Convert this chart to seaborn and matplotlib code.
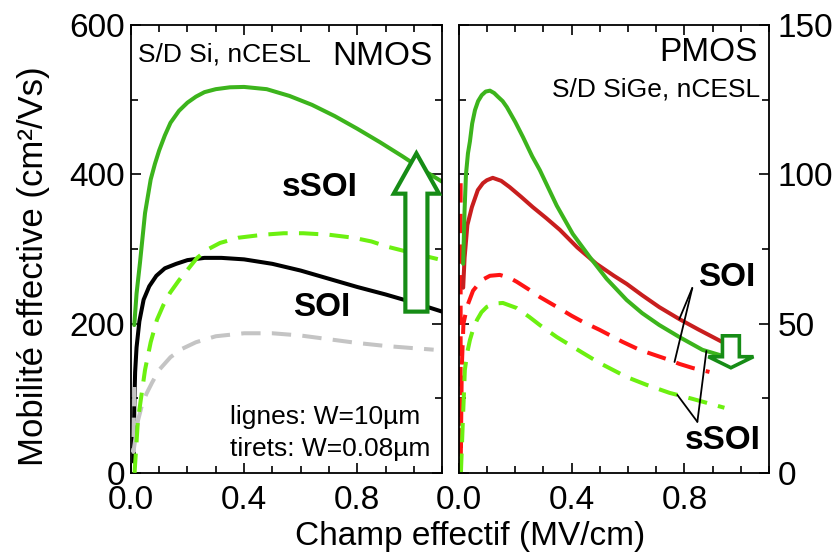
import numpy as np
import matplotlib.pyplot as plt
import matplotlib.ticker as mticker
from matplotlib.patches import FancyArrow
import seaborn as sns

# ── NMOS data (left panel) ───────────────────────────────────────────────────
nmos_e_ssoi_w10 = [0.012, 0.02, 0.032, 0.05, 0.07, 0.085, 0.1, 0.12, 0.14, 0.17,
                   0.2, 0.23, 0.26, 0.3, 0.35, 0.4, 0.48, 0.56, 0.64, 0.72,
                   0.8, 0.88, 0.96, 1.04, 1.1]
nmos_mu_ssoi_w10 = [198, 240, 281, 348, 393, 414, 432, 452, 469, 485,
                    496, 504, 510, 514, 516.5, 517, 514, 505, 493, 478,
                    461, 443, 424, 404, 390]

nmos_e_soi_w10 = [0.01, 0.012, 0.015, 0.02, 0.03, 0.045, 0.065, 0.09, 0.12, 0.16,
                  0.2, 0.26, 0.32, 0.4, 0.5, 0.6, 0.7, 0.8, 0.9, 1.0, 1.1]
nmos_mu_soi_w10 = [15, 90, 135, 168, 203, 232, 250, 264, 274, 280,
                   285, 288, 288, 286, 280, 271, 260, 249, 239, 228, 216]

nmos_e_ssoi_w008 = [0.013, 0.025, 0.05, 0.07, 0.092, 0.115, 0.138, 0.17, 0.2, 0.234,
                    0.27, 0.315, 0.38, 0.467, 0.54, 0.609, 0.7, 0.786, 0.85, 0.906,
                    1.0, 1.1]
nmos_mu_ssoi_w008 = [0, 71, 138, 175, 205, 225, 241, 258, 272, 288,
                     299, 308, 315, 319, 321, 321, 319, 315, 310, 303,
                     294, 285]

nmos_e_soi_w008 = [0.012, 0.009, 0.025, 0.04, 0.055, 0.075, 0.1, 0.14, 0.18, 0.23,
                   0.3, 0.4, 0.5, 0.6, 0.7, 0.8, 0.9, 1.0, 1.07]
nmos_mu_soi_w008 = [115, 28, 70, 92, 106, 121, 138, 155, 166, 175,
                    183, 187, 187, 184, 179, 174, 170, 167, 165]

# ── PMOS data (right panel) ──────────────────────────────────────────────────
pmos_e_ssoi_w10 = [0.015, 0.02, 0.025, 0.032, 0.039, 0.047, 0.057, 0.068, 0.081,
                   0.095, 0.11, 0.125, 0.138, 0.155, 0.17, 0.2, 0.227, 0.26,
                   0.287, 0.347, 0.404, 0.464, 0.524, 0.595, 0.65, 0.711,
                   0.782, 0.864, 0.949]
pmos_mu_ssoi_w10 = [70, 88, 100, 107, 111, 117, 121.5, 124.5, 126.5,
                    127.7, 128, 127.2, 126, 124.5, 122.5, 117.5, 112.5, 106,
                    101.4, 89.5, 80, 72.3, 65, 57.9, 53.5, 49.5,
                    45.5, 41.2, 38.8]

pmos_e_soi_w10 = [0.015, 0.02, 0.03, 0.046, 0.067, 0.085, 0.099, 0.12, 0.15, 0.18,
                  0.22, 0.262, 0.31, 0.358, 0.42, 0.488, 0.55, 0.595, 0.65,
                  0.711, 0.782, 0.85, 0.931]
pmos_mu_soi_w10 = [62, 72, 83, 89, 94.7, 97, 98, 98.8, 97.8, 95.7,
                   92.5, 89, 85.3, 81.4, 75.5, 70, 66, 63.3, 59.5,
                   55.5, 51.5, 48, 44]

pmos_e_soi_w008 = [0.006, 0.006, 0.01, 0.016, 0.03, 0.05, 0.08, 0.11, 0.145, 0.18,
                   0.205, 0.25, 0.287, 0.347, 0.4, 0.439, 0.499, 0.58, 0.641,
                   0.7, 0.747, 0.782, 0.83, 0.889]
pmos_mu_soi_w008 = [97, 0, 35, 50, 56, 61, 64.5, 66, 66.3, 65.3,
                    64, 61.3, 58.9, 55.6, 52.6, 50.6, 47.9, 43.9, 41.2,
                    39.3, 37.8, 36.5, 35.1, 33.8]

pmos_e_ssoi_w008 = [0.007, 0.014, 0.021, 0.03, 0.039, 0.05, 0.064, 0.08, 0.099,
                    0.125, 0.156, 0.205, 0.25, 0.287, 0.347, 0.439, 0.499, 0.595,
                    0.665, 0.747, 0.828, 0.942]
pmos_mu_ssoi_w008 = [0, 17.7, 34.5, 40.5, 44.5, 48, 51.2, 53.8, 55.6,
                     56.7, 56.9, 55.2, 52.2, 49.5, 45.5, 40.2, 36.8, 32.1,
                     29.5, 26.8, 24.8, 21.8]

# ── Style ────────────────────────────────────────────────────────────────────
sns.set_theme(style="ticks")
plt.rcParams["font.family"] = ["Liberation Sans", "DejaVu Sans"]
plt.rcParams.update({
    "axes.linewidth": 1.3,
    "text.color": "black",
    "axes.labelcolor": "black",
    "xtick.color": "black",
    "ytick.color": "black",
    "axes.edgecolor": "black",
})

C_SSOI = "#3cb41c"       # sSOI, W=10um
C_SSOI_DASH = "#6cf010"  # sSOI, W=0.08um
C_SOI = "#000000"
C_SOI_DASH = "#c4c4c4"
C_P_SOI = "#c81e1e"
C_P_SOI_DASH = "#ff1414"
C_ARROW = "#168c16"
LW = 2.9
DASH = (0, (4.8, 2.8))

fig = plt.figure(figsize=(8.39, 5.55), dpi=100)
ax1 = fig.add_axes([0.156, 0.148, 0.371, 0.807])
ax2 = fig.add_axes([0.547, 0.148, 0.3695, 0.807])


def curve(ax, x, y, color, dashed=False, z=2):
    kw = dict(linestyle=DASH) if dashed else {}
    sns.lineplot(x=x, y=y, ax=ax, color=color, linewidth=LW, sort=False,
                 estimator=None, zorder=z, **kw)


# ── NMOS panel ───────────────────────────────────────────────────────────────
curve(ax1, nmos_e_soi_w10, nmos_mu_soi_w10, C_SOI, z=2)
curve(ax1, nmos_e_soi_w008, nmos_mu_soi_w008, C_SOI_DASH, dashed=True, z=3)
curve(ax1, nmos_e_ssoi_w008, nmos_mu_ssoi_w008, C_SSOI_DASH, dashed=True, z=3)
curve(ax1, nmos_e_ssoi_w10, nmos_mu_ssoi_w10, C_SSOI, z=2)

ax1.add_patch(FancyArrow(1.009, 216, 0, 212, width=0.078, head_width=0.16,
                         head_length=54, length_includes_head=True,
                         facecolor="white", edgecolor=C_ARROW, linewidth=3,
                         zorder=5))

ax1.text(0.0225, 0.933, "S/D Si, nCESL", transform=ax1.transAxes,
         fontsize=19, ha="left", va="center")
ax1.text(0.968, 0.929, "NMOS", transform=ax1.transAxes,
         fontsize=24, ha="right", va="center")
ax1.text(0.669, 382, "sSOI", fontsize=24, fontweight="bold",
         ha="center", va="center")
ax1.text(0.676, 221, "SOI", fontsize=24, fontweight="bold",
         ha="center", va="center")
ax1.text(0.318, 0.125, "lignes: W=10µm", transform=ax1.transAxes,
         fontsize=19, ha="left", va="center")
ax1.text(0.318, 0.054, "tirets: W=0.08µm", transform=ax1.transAxes,
         fontsize=19, ha="left", va="center")

ax1.set_xlim(0, 1.1)
ax1.set_ylim(0, 600)
ax1.yaxis.set_major_locator(mticker.MultipleLocator(200))
ax1.yaxis.set_minor_locator(mticker.MultipleLocator(100))
ax1.set_ylabel("Mobilité effective (cm²/Vs)", fontsize=25)
ax1.yaxis.set_label_coords(-0.26, 0.462)

# ── PMOS panel ───────────────────────────────────────────────────────────────
curve(ax2, pmos_e_soi_w008, pmos_mu_soi_w008, C_P_SOI_DASH, dashed=True)
curve(ax2, pmos_e_ssoi_w008, pmos_mu_ssoi_w008, C_SSOI_DASH, dashed=True)
curve(ax2, pmos_e_soi_w10, pmos_mu_soi_w10, C_P_SOI)
curve(ax2, pmos_e_ssoi_w10, pmos_mu_ssoi_w10, C_SSOI)

ax2.add_patch(FancyArrow(0.965, 45.9, 0, -10.7, width=0.06, head_width=0.16,
                         head_length=3.7, length_includes_head=True,
                         facecolor="white", edgecolor=C_ARROW, linewidth=2.6,
                         zorder=5))


def on_curve(xs, ys, x):
    return (x, float(np.interp(x, xs, ys)))


leader = dict(arrowstyle="-", color="black", lw=1.3, shrinkA=0, shrinkB=0)
soi_apex = (0.828, 61.9)
ssoi_apex = (0.846, 17.1)
for target in (on_curve(pmos_e_soi_w10, pmos_mu_soi_w10, 0.782),
               on_curve(pmos_e_soi_w008, pmos_mu_soi_w008, 0.765)):
    ax2.annotate("", xy=target, xytext=soi_apex, arrowprops=leader)
for target in (on_curve(pmos_e_ssoi_w10, pmos_mu_ssoi_w10, 0.878),
               on_curve(pmos_e_ssoi_w008, pmos_mu_ssoi_w008, 0.775)):
    ax2.annotate("", xy=target, xytext=ssoi_apex, arrowprops=leader)

ax2.text(0.949, 65.3, "SOI", fontsize=24, fontweight="bold",
         ha="center", va="center")
ax2.text(0.935, 11, "sSOI", fontsize=24, fontweight="bold",
         ha="center", va="center")
ax2.text(0.965, 0.9375, "PMOS", transform=ax2.transAxes,
         fontsize=24, ha="right", va="center")
ax2.text(0.971, 0.855, "S/D SiGe, nCESL", transform=ax2.transAxes,
         fontsize=19, ha="right", va="center")

ax2.set_xlim(0, 1.1)
ax2.set_ylim(0, 150)
ax2.yaxis.set_major_locator(mticker.MultipleLocator(50))
ax2.yaxis.set_minor_locator(mticker.MultipleLocator(25))
ax2.set_ylabel("")

# ── Shared axis cosmetics ────────────────────────────────────────────────────
for ax in (ax1, ax2):
    ax.set_xlabel("")
    ax.xaxis.set_major_locator(mticker.MultipleLocator(0.4))
    ax.xaxis.set_minor_locator(mticker.MultipleLocator(0.1))
    ax.xaxis.set_major_formatter(mticker.FormatStrFormatter("%.1f"))
    ax.tick_params(which="both", direction="in", top=True, right=True,
                   left=True, bottom=True, width=1.2, labelsize=24,
                   color="black", labelcolor="black")
    ax.tick_params(which="major", length=7)
    ax.tick_params(which="minor", length=5)
    ax.tick_params(axis="x", pad=9)
    for s in ax.spines.values():
        s.set_color("black")
        s.set_visible(True)

ax1.tick_params(axis="y", pad=4)
ax2.tick_params(axis="y", labelleft=False, labelright=True, pad=6)

fig.text(0.560, 0.034, "Champ effectif (MV/cm)", fontsize=24,
         ha="center", va="center")

fig.savefig("out.png", dpi=100)
